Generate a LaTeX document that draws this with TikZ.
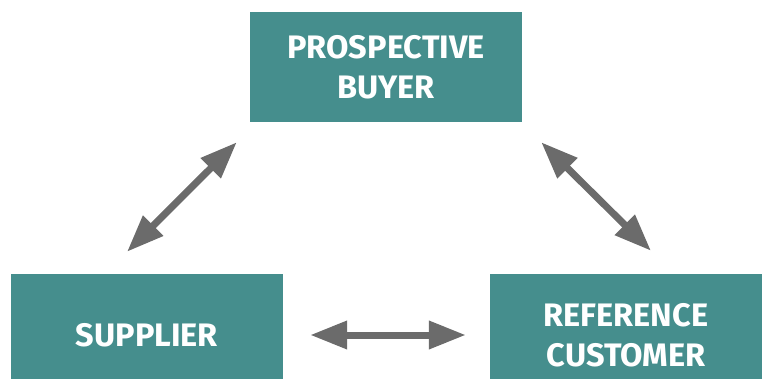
\documentclass[tikz,border=0pt]{standalone}
\usepackage{fontspec}
\setmainfont{Fira Sans}
\usetikzlibrary{arrows.meta}
\definecolor{boxteal}{HTML}{458E8D}
\definecolor{arrowgray}{HTML}{6B6B6B}

\begin{document}
\begin{tikzpicture}[x=1pt, y=1pt,
    box/.style = {fill=boxteal, text=white, minimum width=272pt, inner sep=0pt,
        align=center, font=\bfseries\fontsize{32.5}{40}\selectfont},
    link/.style = {arrowgray, line width=7pt,
        {Triangle[length=37pt,width=27pt]}-{Triangle[length=37pt,width=27pt]}}]
    \useasboundingbox (0,0) rectangle (765,378);

    \node[box, minimum height=110pt] (buyer) at (386,311) {PROSPECTIVE\\BUYER};
    \node[box, minimum height=122pt] (supplier) at (147,43) {SUPPLIER};
    \node[box, minimum height=122pt] (reference) at (626,43) {REFERENCE\\CUSTOMER};

    % free ends of the slanted arrows
    \coordinate (bl) at ([xshift=-13pt, yshift=-20pt]buyer.south west);
    \coordinate (br) at ([xshift=19pt, yshift=-20pt]buyer.south east);
    \coordinate (sl) at ([xshift=-20pt, yshift=22pt]supplier.north);
    \coordinate (rl) at ([xshift=25pt, yshift=23pt]reference.north);

\draw[link] (sl) -- (bl);
\draw[link] (br) -- (rl);
\draw[link, shorten <=27pt, shorten >=24pt] (supplier.east) -- (reference.west);
\end{tikzpicture}
\end{document}
